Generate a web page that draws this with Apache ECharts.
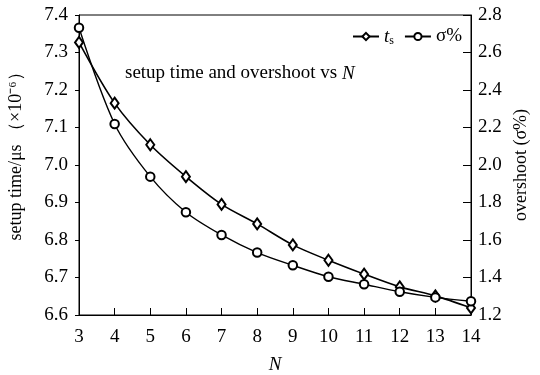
<!DOCTYPE html>
<html><head><meta charset="utf-8">
<script src="https://cdn.jsdelivr.net/npm/echarts@6/dist/echarts.min.js"></script>
<style>html,body{margin:0;padding:0;background:#fff}#c{width:540px;height:375px}</style>
</head><body><div id="c"></div>
<script>
var categories = [3,4,5,6,7,8,9,10,11,12,13,14];
var tsValues = [7.327,7.165,7.054,6.969,6.895,6.843,6.787,6.746,6.709,6.675,6.651,6.619];
var sigmaValues = [2.732,2.219,1.938,1.748,1.627,1.533,1.465,1.404,1.364,1.324,1.294,1.273];
var F = '"Liberation Serif","Times New Roman",serif';
var chart = echarts.init(document.getElementById('c'), null, {renderer:'canvas'});
var axisCommon = {
  axisLine:{show:true,lineStyle:{color:'#000',width:1}},
  splitLine:{show:false}
};
chart.setOption({
  animation:false,
  backgroundColor:'#fff',
  grid:{left:79,right:69,top:15,bottom:60,show:true,borderColor:'#000',borderWidth:1,
        containLabel:false,outerBoundsMode:'none'},
  legend:{
    right:73, top:22, itemGap:10, itemWidth:26, itemHeight:9,
    textStyle:{color:'#000',fontFamily:F,fontSize:19,
      rich:{i:{fontStyle:'italic',fontFamily:F,fontSize:19},s:{fontFamily:F,fontSize:12,padding:[9,0,0,0]}}},
    formatter:function(n){return n==='ts'?'{i|t}{s|s}':n;},
    data:['ts','σ%']
  },
  xAxis:Object.assign({},axisCommon,{
    type:'value',min:3,max:14,interval:1,
    axisTick:{show:true,inside:true,length:7,lineStyle:{color:'#000'}},
    axisLabel:{color:'#000',fontFamily:F,fontSize:19,margin:13},
    name:'N',nameLocation:'middle',nameGap:40,
    nameTextStyle:{color:'#000',fontFamily:F,fontSize:19,fontStyle:'italic'}
  }),
  yAxis:[
    Object.assign({},axisCommon,{
      type:'value',min:6.6,max:7.4,interval:0.1,
      axisTick:{show:true,inside:false,length:4,lineStyle:{color:'#000'}},
      axisLabel:{color:'#000',fontFamily:F,fontSize:19,margin:11,formatter:function(v){return v.toFixed(1);}},
      name:'setup time/μs （×10⁻⁶）',nameLocation:'middle',nameGap:54,
      nameTextStyle:{color:'#000',fontFamily:F,fontSize:18,padding:[0,0,0,26]}
    }),
    Object.assign({},axisCommon,{
      type:'value',min:1.2,max:2.8,interval:0.2,position:'right',
      axisTick:{show:true,inside:true,length:8,lineStyle:{color:'#000'}},
      axisLabel:{color:'#000',fontFamily:F,fontSize:19,margin:7,formatter:function(v){return v.toFixed(1);}},
      name:'overshoot (σ%)',nameLocation:'middle',nameGap:41,
      nameTextStyle:{color:'#000',fontFamily:F,fontSize:18}
    })
  ],
  graphic:[{type:'text',left:125,top:64,style:{
    text:'{a|setup time and overshoot vs }{b|N}',
    rich:{a:{fontFamily:F,fontSize:19,fill:'#000'},b:{fontFamily:F,fontSize:19,fontStyle:'italic',fill:'#000'}}}}],
  series:[
    {name:'ts',type:'line',yAxisIndex:0,smooth:0.3,
     data:categories.map(function(c,i){return [c,tsValues[i]];}),
     symbol:'emptyDiamond',symbolSize:[8,11],
     lineStyle:{color:'#000',width:1.6},itemStyle:{color:'#000',borderWidth:1.2}},
    {name:'σ%',type:'line',yAxisIndex:1,smooth:0.3,
     data:categories.map(function(c,i){return [c,sigmaValues[i]];}),
     symbol:'emptyCircle',symbolSize:8.5,
     lineStyle:{color:'#000',width:1.4},itemStyle:{color:'#000',borderWidth:1.2}}
  ]
});
</script></body></html>
